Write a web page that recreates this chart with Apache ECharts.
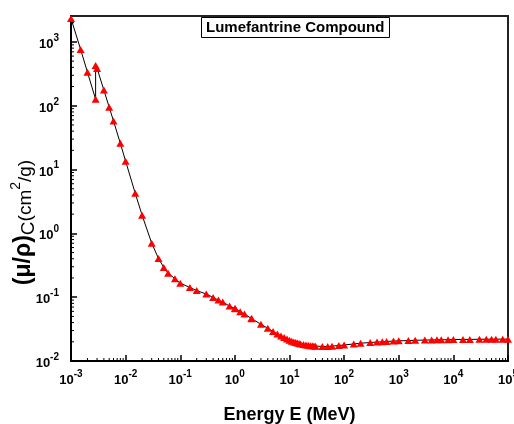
<!DOCTYPE html>
<html>
<head>
<meta charset="utf-8">
<script src="https://cdn.jsdelivr.net/npm/echarts@6/dist/echarts.min.js"></script>
<style>
html,body{margin:0;padding:0;background:#fff;}
#chart{width:514px;height:424px;}
</style>
</head>
<body>
<div id="chart"></div>
<script>
// Photon energy (MeV)
const energy = [0.001, 0.0015, 0.002, 0.002822, 0.002822, 0.003, 0.004, 0.005, 0.006, 0.008,
  0.01, 0.015, 0.02, 0.03, 0.04, 0.05, 0.06, 0.08, 0.1, 0.15, 0.2, 0.3, 0.4, 0.5, 0.6, 0.8,
  1, 1.022, 1.25, 1.5, 2, 2.044, 3, 4, 5, 6, 7, 8, 9, 10, 11, 12, 13, 14, 15, 16, 18, 20,
  22, 24, 26, 28, 30, 40, 50, 60, 80, 100, 150, 200, 300, 400, 500, 600, 800, 1000, 1500,
  2000, 3000, 4000, 5000, 6000, 8000, 10000, 15000, 20000, 30000, 40000, 50000, 60000,
  80000, 100000];
// Mass attenuation coefficient (cm^2/g)
const muRho = [2330, 764, 336, 126, 429, 385, 176, 95, 57.7, 25.8,
  13.5, 4.25, 1.93, 0.703, 0.404, 0.292, 0.238, 0.195, 0.166, 0.142, 0.127, 0.112, 0.099, 0.090, 0.0838, 0.0726,
  0.0666, 0.0659, 0.0591, 0.0545, 0.0465, 0.0460, 0.0376, 0.0326, 0.0290, 0.0265, 0.0247, 0.0233, 0.0221, 0.0212, 0.0204, 0.0199, 0.0195, 0.0191, 0.0188, 0.0185, 0.0181, 0.0178,
  0.0176, 0.0174, 0.0173, 0.0172, 0.0171, 0.0169, 0.0169, 0.0171, 0.0175, 0.0178, 0.0185, 0.0190, 0.0195, 0.0198, 0.0200, 0.0202, 0.0205, 0.0207, 0.0209,
  0.0211, 0.0213, 0.0214, 0.0215, 0.0215, 0.0216, 0.0217, 0.0218, 0.0218, 0.0219, 0.0219, 0.0220, 0.0220,
  0.0220, 0.0220];

const xTickExps = [-3, -2, -1, 0, 1, 2, 3, 4, 5];
const yTickExps = [-2, -1, 0, 1, 2, 3];
const xMin = 1e-3, xMax = 1e5, yMin = 1e-2, yMax = 2550;
const minorMult = [2, 3, 4, 5, 6, 7, 8, 9];

const xMinor = [];
xTickExps.slice(0, -1).forEach(e => minorMult.forEach(m => xMinor.push(m * Math.pow(10, e))));
const yMinor = [];
yTickExps.forEach(e => minorMult.forEach(m => { const v = m * Math.pow(10, e); if (v < yMax) yMinor.push(v); }));

function expLabel(exps) {
  return function (v) {
    const l = Math.log10(v);
    const e = Math.round(l);
    if (Math.abs(l - e) > 1e-6 || exps.indexOf(e) < 0) return '';
    return '{b|10}{s|' + e + '}';
  };
}
const labelRich = {
  b: {fontFamily: 'Liberation Sans, Arial', fontWeight: 'bold', fontSize: 13, color: '#000', lineHeight: 18, verticalAlign: 'bottom'},
  s: {fontFamily: 'Liberation Sans, Arial', fontWeight: 'bold', fontSize: 10, color: '#000', lineHeight: 18, verticalAlign: 'top', padding: [0, 0, 6, 0]}
};

const chart = echarts.init(document.getElementById('chart'), null, {renderer: 'canvas'});
chart.setOption({
  animation: false,
  backgroundColor: '#fff',
  title: {
    text: 'Lumefantrine Compound',
    left: 201, top: 17,
    padding: [2, 5, 2, 5],
    borderColor: '#000', borderWidth: 1,
    textStyle: {fontFamily: 'Liberation Sans, Arial', fontWeight: 'bold', fontSize: 15, color: '#000', lineHeight: 17}
  },
  grid: {left: 71, top: 16, right: 6, bottom: 63, containLabel: false, outerBoundsMode: 'none',
    show: true, borderColor: '#222', borderWidth: 2, backgroundColor: 'transparent'},
  xAxis: {
    type: 'log', logBase: 10, min: xMin, max: xMax, splitNumber: 8,
    name: 'Energy E (MeV)', nameLocation: 'middle', nameGap: 45, nameMoveOverlap: false,
    nameTextStyle: {fontFamily: 'Liberation Sans, Arial', fontWeight: 'bold', fontSize: 18, color: '#000'},
    axisLine: {show: true, lineStyle: {color: '#000', width: 2}},
    axisTick: {show: true, inside: true, length: 6, lineStyle: {color: '#000', width: 1.5}},
    axisLabel: {formatter: expLabel(xTickExps), rich: labelRich, margin: 8, showMinLabel: true, showMaxLabel: true},
    splitLine: {show: false}
  },
  yAxis: {
    type: 'log', logBase: 10, min: yMin, max: yMax, splitNumber: 5,
    name: '{p|(μ/ρ)}{c|C}{n|(cm}{sup|2}{n|/g)}', nameLocation: 'middle', nameGap: 36, nameRotate: 90,
    nameMoveOverlap: false,
    nameTextStyle: {
      padding: [0, 68, 0, 0],
      rich: {
        p: {fontFamily: 'Liberation Sans, Arial', fontWeight: 'bold', fontSize: 23, color: '#000', lineHeight: 26, verticalAlign: 'bottom'},
        c: {fontFamily: 'Liberation Sans, Arial', fontSize: 19, color: '#000', lineHeight: 26, verticalAlign: 'bottom', padding: [0, 0, -3, 0]},
        n: {fontFamily: 'Liberation Sans, Arial', fontSize: 19, color: '#000', lineHeight: 26, verticalAlign: 'bottom'},
        sup: {fontFamily: 'Liberation Sans, Arial', fontSize: 14, color: '#000', lineHeight: 26, verticalAlign: 'top'}
      }
    },
    axisLine: {show: true, lineStyle: {color: '#000', width: 2}},
    axisTick: {show: true, inside: true, length: 6, lineStyle: {color: '#000', width: 1.5}},
    axisLabel: {formatter: expLabel(yTickExps), rich: labelRich, margin: 12, showMaxLabel: false},
    splitLine: {show: false}
  },
  series: [
    {
      type: 'line',
      data: energy.map((e, i) => [e, muRho[i]]),
      symbol: 'triangle', symbolSize: [8, 7],
      itemStyle: {color: '#ff0000'},
      lineStyle: {color: '#000', width: 1},
      z: 3
    },
    {
      type: 'custom', silent: true, clip: false, z: 4,
      data: xMinor.map(v => [v, yMin]),
      renderItem: function (params, api) {
        const p = api.coord([api.value(0), api.value(1)]);
        return {type: 'line', shape: {x1: p[0], y1: p[1], x2: p[0], y2: p[1] - 3}, style: {stroke: '#000', lineWidth: 1}};
      }
    },
    {
      type: 'custom', silent: true, clip: false, z: 4,
      data: yMinor.map(v => [xMin, v]),
      renderItem: function (params, api) {
        const p = api.coord([api.value(0), api.value(1)]);
        return {type: 'line', shape: {x1: p[0], y1: p[1], x2: p[0] + 3, y2: p[1]}, style: {stroke: '#000', lineWidth: 1}};
      }
    }
  ]
});
</script>
</body>
</html>
